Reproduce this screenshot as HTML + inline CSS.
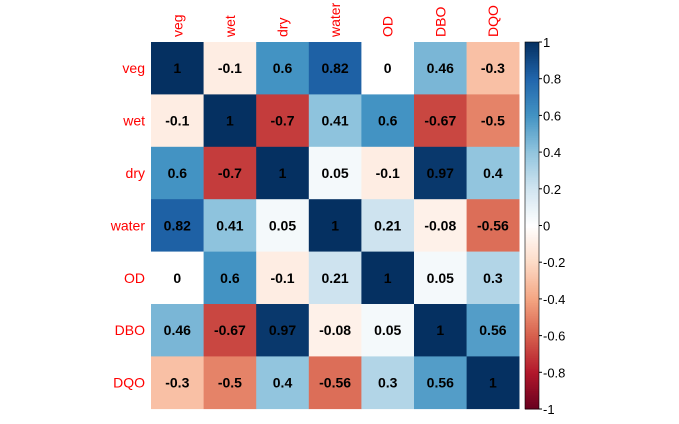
<!DOCTYPE html>
<html><head><meta charset="utf-8"><style>
body{margin:0;background:#fff;}
svg{font-family:"Liberation Sans",sans-serif;}
</style></head><body>
<svg id="c" width="679" height="419"></svg>
<script>
const labels=["veg","wet","dry","water","OD","DBO","DQO"];
const matrix=[
[1,-0.1,0.6,0.82,0,0.46,-0.3],
[-0.1,1,-0.7,0.41,0.6,-0.67,-0.5],
[0.6,-0.7,1,0.05,-0.1,0.97,0.4],
[0.82,0.41,0.05,1,0.21,-0.08,-0.56],
[0,0.6,-0.1,0.21,1,0.05,0.3],
[0.46,-0.67,0.97,-0.08,0.05,1,0.56],
[-0.3,-0.5,0.4,-0.56,0.3,0.56,1]];
const barTicks=[-1,-0.8,-0.6,-0.4,-0.2,0,0.2,0.4,0.6,0.8,1];
const pal=["#67001F","#B2182B","#D6604D","#F4A582","#FDDBC7","#FFFFFF","#D1E5F0","#92C5DE","#4393C3","#2166AC","#053061"];
function hex(h){return [1,3,5].map(i=>parseInt(h.substr(i,2),16));}
function col(v){let t=(v+1)/2*10;let i=Math.min(9,Math.floor(t));let f=t-i;let a=hex(pal[i]),b=hex(pal[i+1]);return "rgb("+a.map((x,k)=>Math.round(x+(b[k]-x)*f)).join(",")+")";}
const svg=document.getElementById('c');const NS="http://www.w3.org/2000/svg";
function el(t,a,p){const e=document.createElementNS(NS,t);for(const k in a)e.setAttribute(k,a[k]);(p||svg).appendChild(e);return e;}
const x0=151,y0=42,cw=52.6,ch=52.4,n=labels.length;
const xs=i=>x0+i*cw, ys=i=>y0+i*ch;
for(let r=0;r<n;r++)for(let c=0;c<n;c++){
 const v=matrix[r][c];
 const rc=el('rect',{x:xs(c),y:ys(r),width:cw+0.3,height:ch+0.3,fill:col(v)});
 
 
 const t=el('text',{x:xs(c)+cw/2,y:ys(r)+ch/2+5,'text-anchor':'middle','font-size':'14','font-weight':'bold',fill:'#000'});
 t.textContent=String(v);
 
 
}
labels.forEach((l,i)=>{
 const t=el('text',{x:145,y:ys(i)+ch/2+5,'text-anchor':'end','font-size':'14',fill:'#FF0000'});
 t.textContent=l;
 
 
 const cx=xs(i)+cw/2+5;
 const u=el('text',{x:cx,y:37,'font-size':'14',fill:'#FF0000',transform:'rotate(-90 '+cx+' 37)'});
 u.textContent=l;
 
 
});
const bx=525,bw=14,bt=42,bb=409;
const by=v=>bb-(v+1)/2*(bb-bt);
const N=200;
for(let k=0;k<N;k++){const v=-1+(k+0.5)*2/N;
 const r=el('rect',{x:bx,y:by(-1+(k+1)*2/N),width:bw,height:(bb-bt)/N+0.5,fill:col(v)});
 
 
}
const fr=el('rect',{x:bx,y:bt,width:bw,height:bb-bt,fill:'none',stroke:'#000','stroke-width':'0.6'});


barTicks.forEach(v=>{
 const y=by(v);
 const ln=el('line',{x1:bx+bw,x2:bx+bw+3,y1:y,y2:y,stroke:'#000'});
 
 
 const t=el('text',{x:bx+bw+4,y:y+5,'font-size':'13',fill:'#000'});
 t.textContent=String(v);
 
 
});
</script>
</body></html>
